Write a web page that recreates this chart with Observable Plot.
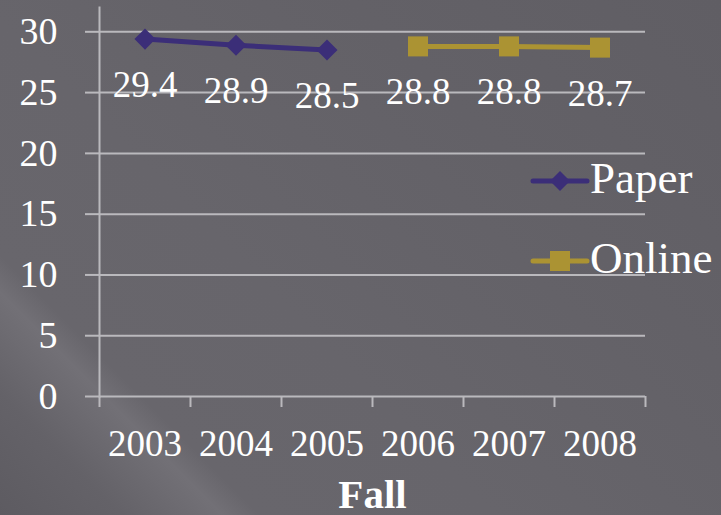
<!DOCTYPE html>
<html>
<head>
<meta charset="utf-8">
<script src="https://cdn.jsdelivr.net/npm/d3@7"></script>
<script src="https://cdn.jsdelivr.net/npm/@observablehq/plot@0.6"></script>
<style>
html, body { margin: 0; padding: 0; }
body {
  width: 721px; height: 515px; overflow: hidden;
  background: linear-gradient(45deg, #5d5b61 0%, #646268 10%, #727076 18%, #68666c 21%, #67656b 40%, #636167 70%, #605e64 100%);
}
#chart svg { display: block; }
</style>
</head>
<body>
<div id="chart"></div>
<script>
// ---- data ----
const years = [2003, 2004, 2005, 2006, 2007, 2008];
const paperYears = [2003, 2004, 2005];
const paperValues = [29.4, 28.9, 28.5];
const onlineYears = [2006, 2007, 2008];
const onlineValues = [28.8, 28.8, 28.7];
const yTicks = [0, 5, 10, 15, 20, 25, 30];
const seriesNames = ["Paper", "Online"];
const seriesColors = ["#3b2e78", "#ab9333"];
const xTitle = "Fall";

// ---- derived tables ----
const paper = paperYears.map((year, i) => ({year, value: paperValues[i]}));
const online = onlineYears.map((year, i) => ({year, value: onlineValues[i]}));
const boundaries = years.map(y => y - 0.5).concat([years[years.length - 1] + 0.5]);

const gridColor = "#bab9bd";
const font = "'Liberation Serif', 'Times New Roman', serif";

const chart = Plot.plot({
  width: 721,
  height: 515,
  marginLeft: 99,
  marginRight: 76,
  marginTop: 7,
  marginBottom: 119,
  style: {background: "transparent", fontFamily: font, color: "#ffffff", overflow: "visible"},
  x: {type: "linear", domain: [boundaries[0], boundaries[boundaries.length - 1]]},
  y: {domain: [0, 32]},
  marks: [
    Plot.gridY(yTicks, {stroke: gridColor, strokeOpacity: 1, strokeWidth: 2}),
    Plot.axisY(yTicks, {tickSize: 14, tickPadding: 28, stroke: gridColor, strokeWidth: 2, fontSize: 38, fill: "#ffffff", label: null}),
    Plot.frame({anchor: "left", stroke: gridColor, strokeWidth: 2}),
    Plot.axisX(boundaries, {tickSize: 11, tickFormat: () => "", stroke: gridColor, strokeWidth: 2, label: null}),
    Plot.axisX(years, {tickSize: 0, tickPadding: 33, tickFormat: d => String(d), fontSize: 37, fill: "#ffffff", label: null}),
    Plot.line(paper, {x: "year", y: "value", stroke: seriesColors[0], strokeWidth: 5}),
    Plot.dot(paper, {x: "year", y: "value", symbol: "diamond2", r: 9.5, fill: seriesColors[0], stroke: "none"}),
    Plot.line(online, {x: "year", y: "value", stroke: seriesColors[1], strokeWidth: 5}),
    Plot.dot(online, {x: "year", y: "value", symbol: "square", r: 11.3, fill: seriesColors[1], stroke: "none"}),
    Plot.text(paper.concat(online), {x: "year", y: "value", text: d => d.value.toFixed(1), dy: 58, lineAnchor: "bottom", fill: "#ffffff", fontSize: 37}),
    Plot.text([xTitle], {frameAnchor: "bottom", dy: 111, lineAnchor: "bottom", fill: "#ffffff", fontSize: 41, fontWeight: "bold"})
  ]
});

document.getElementById("chart").appendChild(chart);

// ---- legend ----
const svg = d3.select(chart);
const lg = svg.append("g").attr("font-family", font).attr("font-size", 45).attr("fill", "#ffffff").attr("text-anchor", "start");
const legendRows = [181, 261];
seriesNames.forEach((name, i) => {
  const g = lg.append("g").attr("transform", `translate(0,${legendRows[i]})`);
  g.append("line").attr("x1", 533).attr("x2", 587).attr("y1", 0).attr("y2", 0)
    .attr("stroke", seriesColors[i]).attr("stroke-width", 5).attr("stroke-linecap", "round");
  const sym = i === 0 ? d3.symbolDiamond2 : d3.symbolSquare;
  const size = i === 0 ? 255 : 400;
  g.append("path").attr("d", d3.symbol(sym, size)()).attr("transform", "translate(560,0)").attr("fill", seriesColors[i]);
  g.append("text").attr("x", 590).attr("y", 12).attr("text-anchor", "start").text(name);
});
</script>
</body>
</html>
